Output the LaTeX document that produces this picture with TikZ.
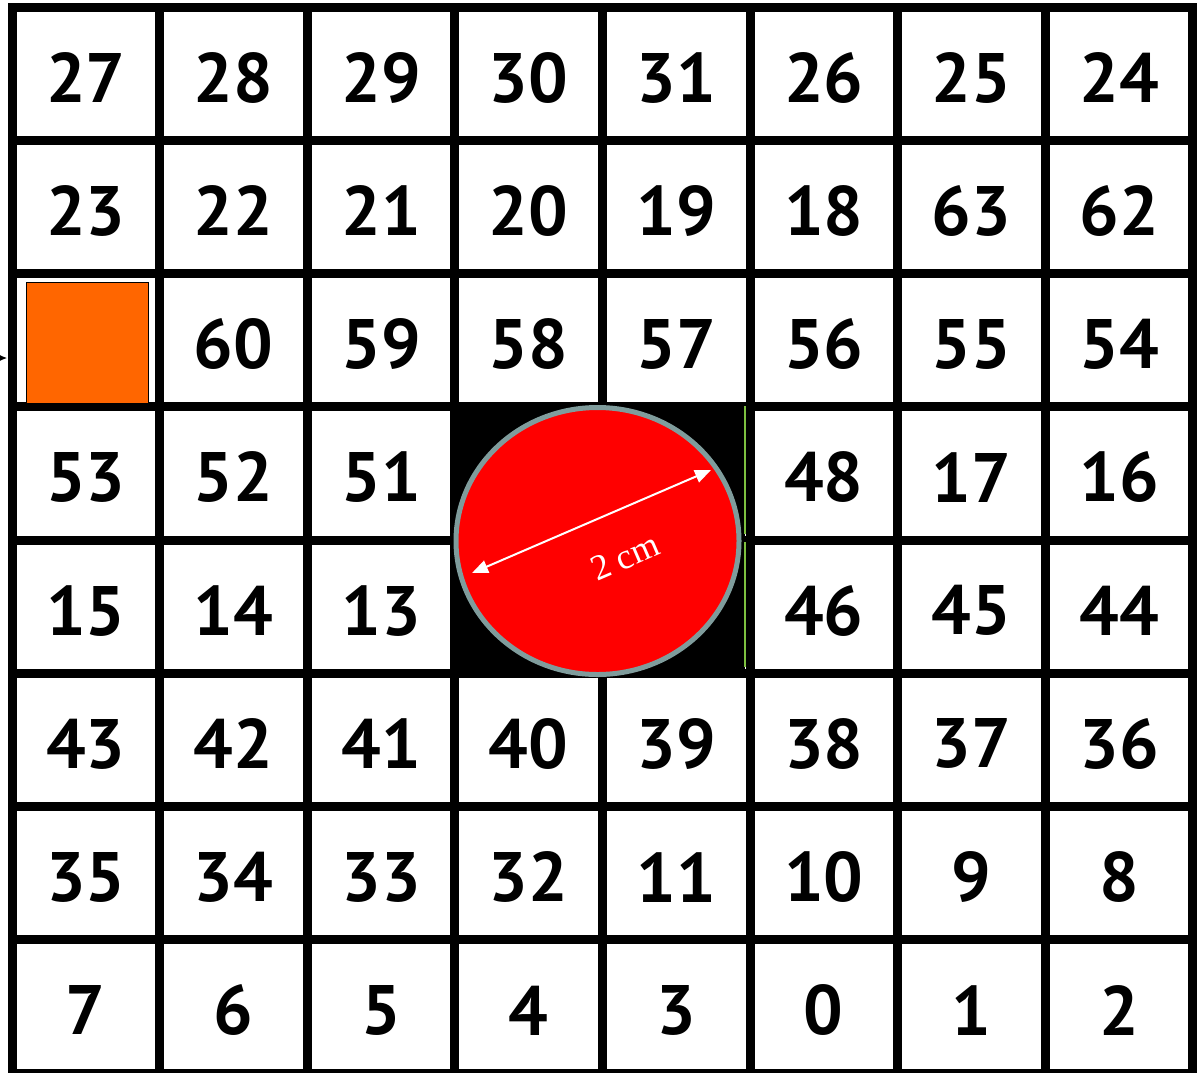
\documentclass[tikz,border=0pt]{standalone}
\usepackage{fontspec}
\setmainfont{Liberation Serif}
\newfontfamily\numfont{PT Sans}
\usetikzlibrary{arrows.meta,shapes.geometric}
\definecolor{orangefill}{RGB}{255,102,0}
\definecolor{rimgray}{RGB}{127,156,156}
\definecolor{edgegreen}{RGB}{125,192,64}
\begin{document}
\begin{tikzpicture}[x=0.5pt,y=-0.5pt,
  gridline/.style={line width=4.5pt, line cap=rect, black},
  num/.style={font=\numfont\bfseries\fontsize{35}{40}\selectfont, inner sep=0pt},
  dimarrow/.style={white, line width=1pt, {Triangle[length=8pt,width=6.5pt]}-{Triangle[length=8pt,width=6.5pt]}}]
\useasboundingbox (0,0) rectangle (1198,1072);
\fill[white] (0,0) rectangle (1198,1072);
% grid
\foreach \j in {0,...,8} {
  \draw[gridline] ({12+147.6*\j},7) -- ({12+147.6*\j},1073);
}
\foreach \i in {0,...,8} {
  \draw[gridline] (12,{7+133.25*\i}) -- (1192.8,{7+133.25*\i});
}
% numbers
\foreach \rowl [count=\r from 0] in {
  {27,28,29,30,31,26,25,24},
  {23,22,21,20,19,18,63,62},
  {-1,60,59,58,57,56,55,54},
  {53,52,51,-1,-1,48,17,16},
  {15,14,13,-1,-1,46,45,44},
  {43,42,41,40,39,38,37,36},
  {35,34,33,32,11,10,9,8},
  {7,6,5,4,3,0,1,2}} {
  \foreach \t [count=\c from 0] in \rowl {
    \ifnum\t<0 \else
      \node[num] (n\t) at ({12+147.6*(\c+0.5)},{7+133.25*(\r+0.5)+4}) {\t};
    \fi
  }
}
% orange square
\node (orange) [draw=black, line width=0.6pt, fill=orangefill, minimum width=61pt, minimum height=60.5pt, inner sep=0pt, anchor=north west] at (26,282) {};
\coordinate (tipsrc) at (-40,358);
\coordinate (tipend) at (7,358);
\draw[line width=0.5pt, -{Latex[length=4pt,width=3.5pt]}] (tipsrc) -- (tipend);
% black block with disk
\fill[black] (454,404) rectangle (745,678);
\draw[edgegreen, line width=1pt] (744.5,406) -- (744.5,534);
\draw[edgegreen, line width=1pt] (744.5,542) -- (744.5,667);
\node (disk) [ellipse, draw=rimgray, line width=2.5pt, fill=red, minimum width=141.5pt, minimum height=133.5pt, inner sep=0pt] at (597.5,541) {};
\coordinate (dA) at (472,573);
\coordinate (dB) at (711,470);
\draw[dimarrow] (dA) -- (dB);
\node[white, rotate=23.3, font=\fontsize{18}{21}\selectfont, inner sep=0pt] (dimlabel) at (625,557) {2 cm};
\end{tikzpicture}
\end{document}
